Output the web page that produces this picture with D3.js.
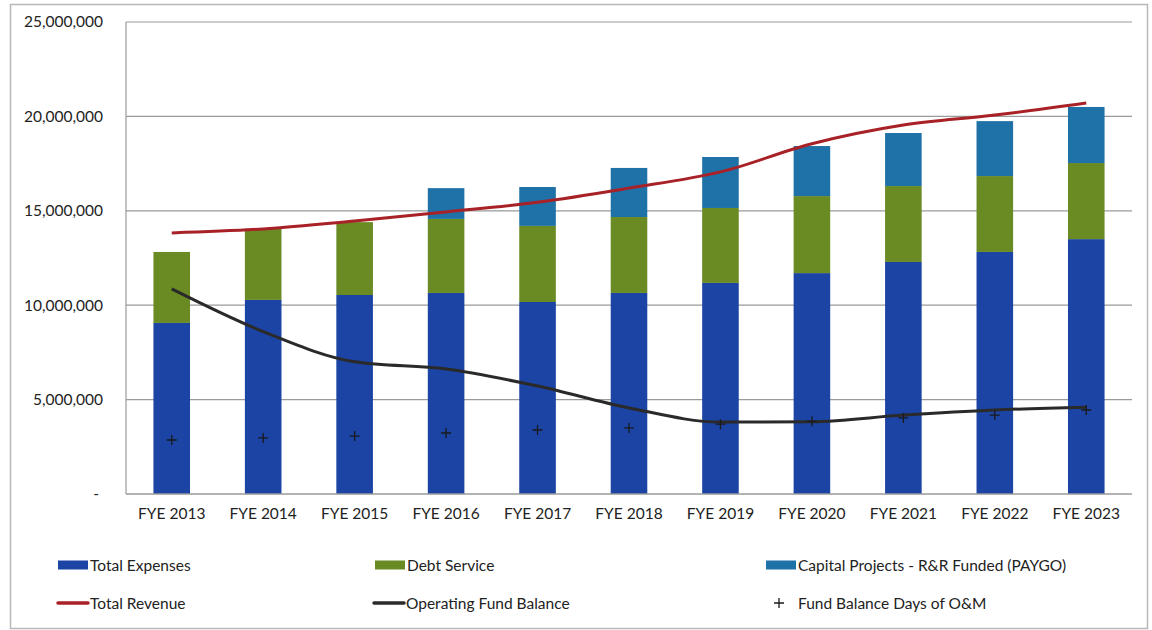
<!DOCTYPE html>
<html>
<head>
<meta charset="utf-8">
<script src="https://cdn.jsdelivr.net/npm/d3@7"></script>
<style>
  html, body { margin: 0; padding: 0; background: #fff; }
  svg { display: block; }
  text { font-family: Lato, "Noto Sans", sans-serif; fill: #222; }
</style>
</head>
<body>
<svg id="chart" width="1152" height="630"></svg>
<script>
// Fiscal years
const years = ["FYE 2013", "FYE 2014", "FYE 2015", "FYE 2016", "FYE 2017", "FYE 2018",
               "FYE 2019", "FYE 2020", "FYE 2021", "FYE 2022", "FYE 2023"];

// Stacked bar components (dollars)
const totalExpenses = [9060000, 10280000, 10540000, 10650000, 10170000, 10650000,
                       11180000, 11700000, 12290000, 12820000, 13500000];
const debtService   = [3760000, 3770000, 3860000, 3920000, 4030000, 4020000,
                       3970000, 4080000, 4020000, 4020000, 4030000];
const capitalPaygo  = [0, 0, 0, 1630000, 2060000, 2600000,
                       2700000, 2650000, 2810000, 2910000, 2970000];

// Line series (dollars)
const totalRevenue  = [13830000, 14040000, 14460000, 14940000, 15450000, 16200000,
                       17060000, 18550000, 19540000, 20070000, 20710000];
const operatingFund = [10860000, 8600000, 7000000, 6620000, 5720000, 4560000,
                       3810000, 3830000, 4180000, 4450000, 4600000];
const fundBalanceDays = [2860000, 2970000, 3070000, 3230000, 3390000, 3500000,
                         3700000, 3850000, 4030000, 4180000, 4450000];

// Axis ticks
const yTicks = [0, 5000000, 10000000, 15000000, 20000000, 25000000];

const colors = {
  expenses: "#1b44a4",
  debt: "#6a8a24",
  capital: "#1f72a8",
  revenue: "#a82126",
  fund: "#2a2a2a",
  grid: "#9a9a9a"
};

const svg = d3.select("#chart");

// Outer frame
svg.append("rect")
  .attr("x", 10.5).attr("y", 4.5)
  .attr("width", 1137).attr("height", 624)
  .attr("fill", "#fff").attr("stroke", "#b8b8b8").attr("stroke-width", 1.5);

const plot = { left: 126, right: 1132, top: 22, bottom: 494 };

const x = d3.scaleBand().domain(years)
  .range([plot.left, plot.right]).paddingInner(0.6).paddingOuter(0.3);
const y = d3.scaleLinear().domain([0, 25000000]).range([plot.bottom, plot.top]);

// Gridlines
svg.append("g")
  .selectAll("line")
  .data(yTicks.filter(d => d > 0))
  .join("line")
  .attr("x1", plot.left).attr("x2", plot.right)
  .attr("y1", d => y(d)).attr("y2", d => y(d))
  .attr("stroke", colors.grid).attr("stroke-width", 1.2);

// Y axis labels
const fmt = d3.format(",");
const yAxis = d3.axisLeft(y).tickValues(yTicks).tickSize(0).tickPadding(0)
  .tickFormat(d => d === 0 ? "-" : fmt(d));
const yg = svg.append("g").attr("transform", `translate(${plot.left - 23},0)`).call(yAxis);
yg.select(".domain").remove();
yg.selectAll("text").attr("font-size", 15.5).attr("fill", "#222")
  .attr("font-family", "Lato, 'Noto Sans', sans-serif");
yg.selectAll(".tick").filter(d => d === 0).select("text").attr("dx", -4);

// Stacked bars
const rows = years.map((yr, i) => ({
  year: yr,
  expenses: totalExpenses[i],
  debt: debtService[i],
  capital: capitalPaygo[i]
}));
const keys = ["expenses", "debt", "capital"];
const stack = d3.stack().keys(keys)(rows);

svg.append("g")
  .selectAll("g")
  .data(stack)
  .join("g")
  .attr("fill", d => colors[d.key])
  .selectAll("rect")
  .data(d => d)
  .join("rect")
  .attr("x", d => x(d.data.year))
  .attr("width", x.bandwidth())
  .attr("y", d => y(d[1]))
  .attr("height", d => y(d[0]) - y(d[1]));

// Axis lines
svg.append("line")
  .attr("x1", plot.left).attr("x2", plot.left)
  .attr("y1", plot.top).attr("y2", plot.bottom)
  .attr("stroke", colors.grid).attr("stroke-width", 1.2);
svg.append("line")
  .attr("x1", plot.left).attr("x2", plot.right)
  .attr("y1", plot.bottom).attr("y2", plot.bottom)
  .attr("stroke", colors.grid).attr("stroke-width", 1.5);

// X axis labels
const xAxis = d3.axisBottom(x).tickSize(0).tickPadding(14);
const xg = svg.append("g").attr("transform", `translate(0,${plot.bottom})`).call(xAxis);
xg.select(".domain").remove();
xg.selectAll("text").attr("font-size", 15.5).attr("fill", "#222")
  .attr("font-family", "Lato, 'Noto Sans', sans-serif");

const cx = d => x(d) + x.bandwidth() / 2;

// Smoothed lines
const revenueLine = d3.line()
  .x((d, i) => cx(years[i]))
  .y(d => y(d))
  .curve(d3.curveCatmullRom.alpha(0.5));
const fundLine = d3.line()
  .x((d, i) => cx(years[i]))
  .y(d => y(d))
  .curve(d3.curveMonotoneX);

svg.append("path").datum(totalRevenue)
  .attr("d", revenueLine).attr("fill", "none")
  .attr("stroke", colors.revenue).attr("stroke-width", 3);

svg.append("path").datum(operatingFund)
  .attr("d", fundLine).attr("fill", "none")
  .attr("stroke", colors.fund).attr("stroke-width", 3);

// Fund balance markers
svg.append("g")
  .selectAll("path")
  .data(fundBalanceDays)
  .join("path")
  .attr("transform", (d, i) => `translate(${cx(years[i])},${y(d)})`)
  .attr("d", "M-5,0H5M0,-5V5")
  .attr("stroke", "#1a1a1a").attr("stroke-width", 1.3);

// Legend
const legend = svg.append("g").attr("font-size", 15.5);
const legendItems = [
  { label: "Total Expenses", type: "rect", color: colors.expenses, x: 58, y: 565 },
  { label: "Debt Service", type: "rect", color: colors.debt, x: 375, y: 565 },
  { label: "Capital Projects - R&R Funded (PAYGO)", type: "rect", color: colors.capital, x: 766, y: 565 },
  { label: "Total Revenue", type: "line", color: colors.revenue, x: 58, y: 603 },
  { label: "Operating Fund Balance", type: "line", color: colors.fund, x: 374, y: 603 },
  { label: "Fund Balance Days of O&M", type: "plus", color: "#1a1a1a", x: 766, y: 603 }
];
legendItems.forEach(it => {
  const g = legend.append("g").attr("transform", `translate(${it.x},${it.y})`);
  if (it.type === "rect") {
    g.append("rect").attr("x", 0).attr("y", -4.5).attr("width", 30).attr("height", 9)
      .attr("fill", it.color);
  } else if (it.type === "line") {
    g.append("line").attr("x1", 0).attr("x2", 30).attr("y1", 0).attr("y2", 0)
      .attr("stroke", it.color).attr("stroke-width", 3.5).attr("stroke-linecap", "round");
  } else {
    g.append("path").attr("d", "M8,0H18M13,-5V5").attr("stroke", it.color).attr("stroke-width", 1.3);
  }
  g.append("text").attr("x", 32).attr("y", 0)
    .attr("dominant-baseline", "central").text(it.label);
});
</script>
</body>
</html>
